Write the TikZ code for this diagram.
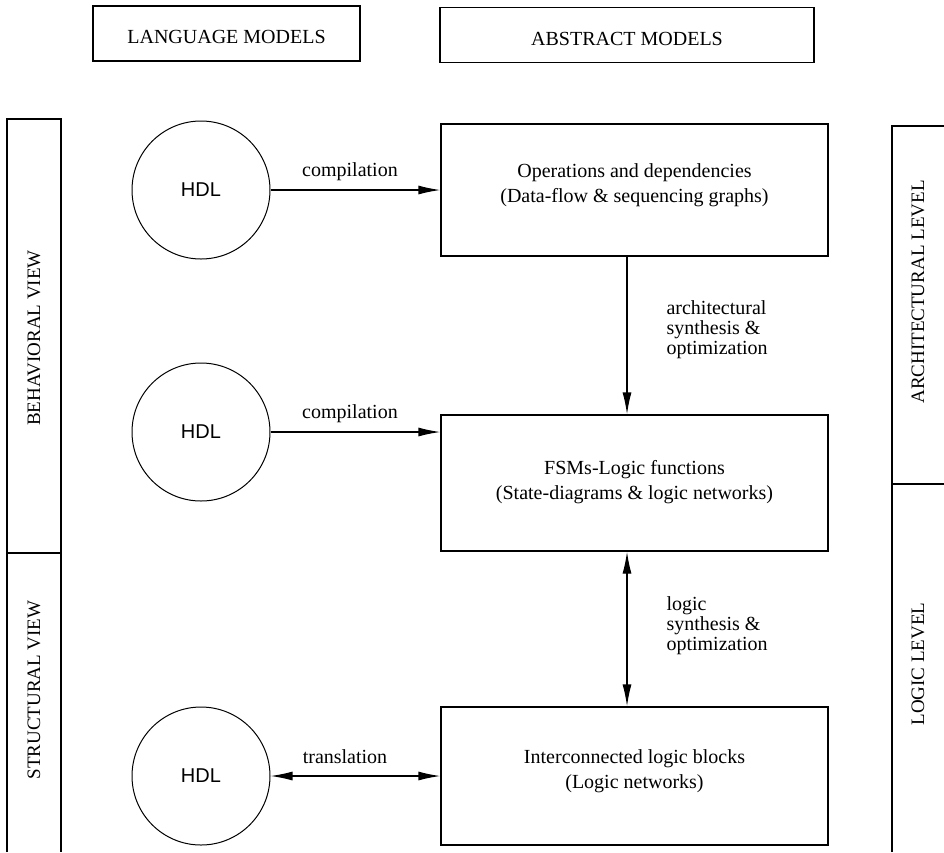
\documentclass[tikz,border=0pt]{standalone}
\usepackage{fontspec}
\setmainfont{Liberation Serif}
\newfontfamily\hdlfont{Liberation Sans}
\usetikzlibrary{arrows.meta}

\begin{document}
\begin{tikzpicture}[x=1pt,y=-1pt,
    every node/.style={font=\fontsize{20}{25}\selectfont},
    frame/.style={draw,line width=1.3pt,inner sep=0pt},
    headbox/.style={frame,minimum height=55pt},
    modelbox/.style={frame,minimum width=387pt},
    hdl/.style={draw,circle,line width=1pt,minimum size=138pt,inner sep=0pt,
                font=\hdlfont\fontsize{20}{24}\selectfont},
    boxtext/.style={align=center},
    steplabel/.style={align=left,anchor=north west,font=\fontsize{20}{20}\selectfont},
    edgelabel/.style={anchor=base},
    sidelabel/.style={rotate=90,font=\fontsize{19}{22}\selectfont},
    strip/.style={line width=1.3pt},
    tip/.tip={Latex[length=22pt,width=9pt]},
    flow/.style={line width=1.3pt,-tip},
    flowboth/.style={line width=1.3pt,tip-tip}]

  \useasboundingbox (0,0) rectangle (944,852);

  % column headings
  \node[headbox,minimum width=267pt] (lang) at (226.5,33.5) {};
  \node (langt) at (226.5,37) {LANGUAGE MODELS};
  \node[headbox,minimum width=374pt] (abst) at (627,35) {};
  \node (abstt) at (627,38.5) {ABSTRACT MODELS};

  % left strip: views
  \draw[strip] (7,852) -- (7,119) -- (61,119) -- (61,852);
  \draw[strip] (7,553) -- (61,553);
  \node[sidelabel] (behav) at (34,338) {BEHAVIORAL VIEW};
  \node[sidelabel] (struct) at (34,690) {STRUCTURAL VIEW};

  % right strip: levels
  \draw[strip] (892,852) -- (892,126) -- (944,126);
  \draw[strip] (892,484) -- (944,484);
  \node[sidelabel] (arch) at (918,292) {ARCHITECTURAL LEVEL};
  \node[sidelabel] (logic) at (918,664) {LOGIC LEVEL};

  % language models
  \node[hdl] (h1) at (201,190) {HDL};
  \node[hdl] (h2) at (201,432) {HDL};
  \node[hdl] (h3) at (201,776) {HDL};

  % abstract models
  \node[modelbox,minimum height=132pt] (b1) at (634.5,190) {};
  \node[modelbox,minimum height=136pt] (b2) at (634.5,483) {};
  \node[modelbox,minimum height=138pt] (b3) at (634.5,776) {};
  \node[boxtext] (t1) at (634.5,185) {Operations and dependencies\\(Data-flow \& sequencing graphs)};
  \node[boxtext] (t2) at (634.5,482) {FSMs-Logic functions\\(State-diagrams \& logic networks)};
  \node[boxtext] (t3) at (634.5,771) {Interconnected logic blocks\\(Logic networks)};

  % horizontal connectors
  \draw[flow] (h1.east) -- (h1.east -| b1.west);
  \draw[flow] (h2.east) -- (h2.east -| b2.west);
  \draw[flowboth] (h3.east) -- (h3.east -| b3.west);
  \node[edgelabel] (c1) at (350,176) {compilation};
  \node[edgelabel] (c2) at (350,418) {compilation};
  \node[edgelabel] (c3) at (345,763) {translation};

  % vertical connectors
  \coordinate (vx) at (627,0);
  \draw[flow] (vx |- b1.south) -- (vx |- b2.north);
  \draw[flowboth] (vx |- b2.south) -- (vx |- b3.north);
  \node[steplabel] (s1) at (663,297) {architectural\\synthesis \&\\optimization};
  \node[steplabel] (s2) at (663,593) {logic\\synthesis \&\\optimization};
\end{tikzpicture}
\end{document}
